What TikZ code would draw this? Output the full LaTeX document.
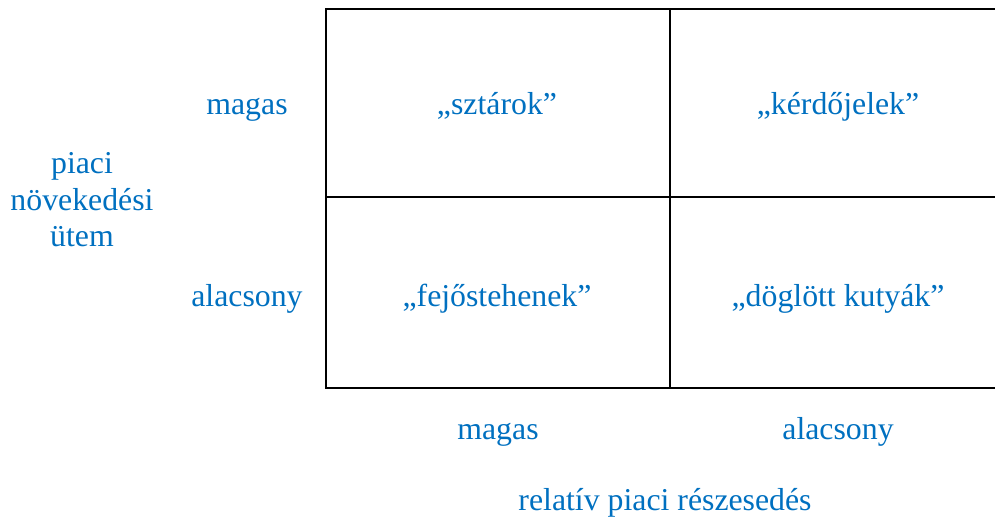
\documentclass[tikz,border=0pt]{standalone}
\usepackage{fontspec}
\setmainfont{Liberation Serif}
\usepackage{tikz}
\usetikzlibrary{positioning}
\definecolor{wordblue}{RGB}{0,112,192}
\tikzset{fontscale/.style = {font=\fontsize{31.8}{36.5}\selectfont}}
\tikzstyle{cell}=[rectangle, draw=black, line width=2pt, minimum width=344pt]
\tikzstyle{legend_normal}=[rectangle, text=wordblue, fontscale, align=center, inner sep=0pt, anchor=base]

\begin{document}
\begin{tikzpicture}[x=1pt, y=-1pt]
\useasboundingbox (0,0) rectangle (995,520);
\clip (0,0) rectangle (995,520);

% matrix cells
\node[cell,minimum height=188pt] (stars) at (498,103) {};
\node[cell,minimum height=188pt] (question) at (842,103) {};
\node[cell,minimum height=191pt] (cows) at (498,292.5) {};
\node[cell,minimum height=191pt] (dogs) at (842,292.5) {};

% cell labels
\node[legend_normal] (starstext) at (497,114.5) {„sztárok”};
\node[legend_normal] (questiontext) at (838,114.5) {„kérdőjelek”};
\node[legend_normal] (cowstext) at (497,306.5) {„fejőstehenek”};
\node[legend_normal] (dogstext) at (838,306.5) {„döglött kutyák”};

% Legends
\node[legend_normal] (rowhigh) at (247,114.5) {magas};
\node[legend_normal] (rowlow) at (247,306.5) {alacsony};
\node[legend_normal] (growth) at (82,246.5) {piaci\\növekedési\\ütem};

\node[legend_normal] (colhigh) at (498,439.5) {magas};
\node[legend_normal] (collow) at (838,439.5) {alacsony};
\node[legend_normal] (share) at (665,510.5) {relatív piaci részesedés};
\end{tikzpicture}
\end{document}
